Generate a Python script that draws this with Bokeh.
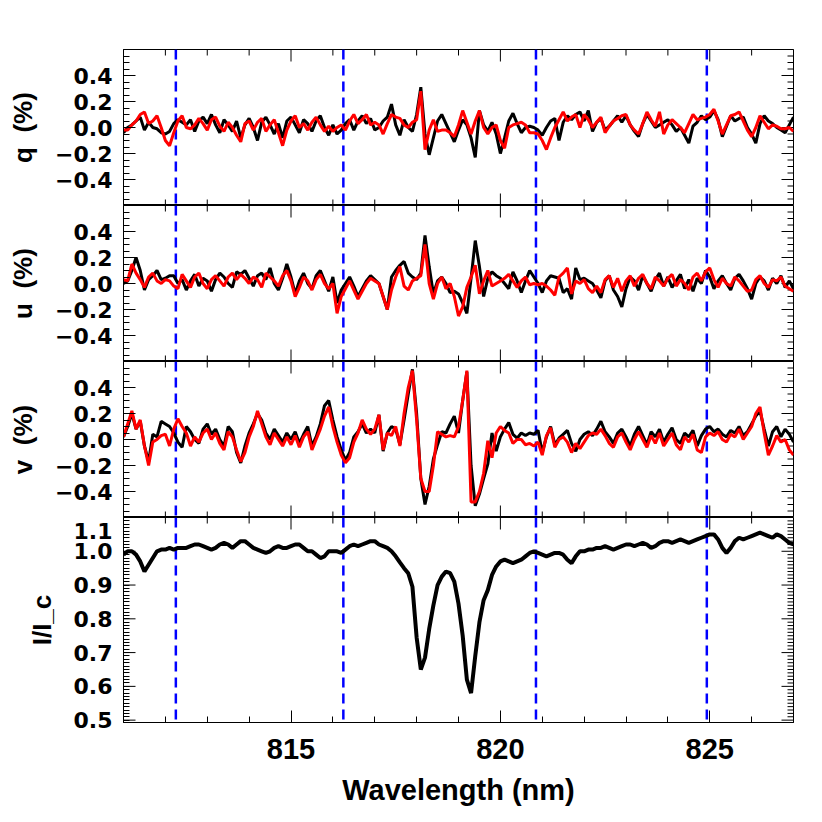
import numpy as np
from bokeh.plotting import figure
from bokeh.layouts import column
from bokeh.models import Range1d, FixedTicker, Span, CustomJSTickFormatter
from bokeh.embed import file_html
from bokeh.resources import INLINE

# ---------------- data (sampled every 0.1 nm from 811.0 nm) ----------------
WL_START = 811.0
WL_STEP = 0.1

Q_BLACK = [
    -0.04, 0.00, 0.02, 0.05, 0.08, -0.02, 0.04, 0.00, -0.01, -0.04,
    -0.05, -0.03, 0.03, 0.06, 0.04, 0.02, 0.06, -0.03, 0.05, 0.08,
    0.03, 0.10, 0.02, -0.04, 0.06, 0.02, -0.03, 0.05, -0.08, 0.02,
    0.07, 0.00, -0.10, 0.04, 0.08, 0.02, -0.05, 0.03, -0.08, 0.05,
    0.08, 0.02, -0.04, 0.06, 0.03, -0.03, 0.05, 0.09, 0.00, -0.06,
    0.02, -0.05, -0.02, 0.03, 0.06, -0.02, 0.05, 0.09, 0.03, 0.07,
    -0.02, 0.00, 0.05, 0.08, 0.18, 0.02, -0.06, 0.06, 0.00, -0.03,
    0.10, 0.31, -0.05, -0.21, -0.08, 0.05, 0.10, 0.03, -0.04, -0.11,
    -0.02, 0.06, 0.02, -0.08, -0.23, 0.13, 0.02, -0.03, 0.04, -0.05,
    -0.20, -0.08, 0.05, 0.11, 0.03, -0.04, 0.00, 0.01, 0.00, -0.02,
    -0.06, 0.00, 0.05, 0.07, -0.10, 0.04, 0.09, 0.06, 0.10, 0.12,
    0.05, 0.13, -0.03, 0.04, 0.07, -0.02, 0.01, 0.05, 0.09, 0.04,
    0.09, 0.02, -0.03, -0.07, 0.03, 0.10, 0.05, 0.00, 0.02, 0.04,
    0.06, 0.02, -0.03, 0.00, -0.06, -0.12, 0.01, 0.04, 0.09, 0.06,
    0.08, 0.13, 0.06, -0.07, 0.01, 0.09, 0.05, 0.07, 0.08, 0.00,
    -0.05, -0.12, 0.03, 0.09, 0.05, 0.03, 0.00, -0.02, -0.04, 0.02,
    0.08,
]
Q_RED = [
    -0.02, -0.02, 0.02, 0.05, 0.10, 0.12, 0.03, 0.05, 0.09, 0.00,
    -0.10, -0.14, -0.04, 0.05, 0.09, 0.00, -0.01, 0.02, 0.07, 0.03,
    -0.02, 0.06, 0.08, 0.01, -0.03, 0.04, 0.00, -0.06, -0.11, 0.03,
    0.05, -0.02, 0.04, 0.07, -0.03, 0.02, 0.06, -0.04, -0.14, -0.02,
    0.05, 0.09, 0.00, 0.03, -0.02, 0.04, 0.08, 0.02, -0.03, 0.01,
    -0.03, 0.00, 0.02, -0.02, 0.05, 0.10, 0.03, 0.06, 0.10, 0.02,
    0.04, 0.02, -0.05, 0.03, 0.10, 0.08, 0.07, 0.02, 0.00, 0.04,
    0.06, 0.28, -0.17, -0.02, 0.06, -0.03, -0.02, -0.02, -0.04, -0.07,
    0.02, 0.13, 0.04, -0.05, 0.05, 0.13, 0.00, -0.05, 0.00, 0.02,
    -0.10, -0.16, 0.00, 0.02, 0.03, 0.04, 0.02, -0.04, -0.04, -0.05,
    -0.10, -0.17, -0.08, 0.00, 0.06, 0.12, 0.05, 0.08, 0.10, 0.00,
    0.10, 0.06, 0.00, 0.04, 0.08, -0.04, 0.01, 0.05, 0.07, 0.09,
    0.10, 0.02, -0.02, -0.05, 0.03, 0.12, 0.06, 0.01, 0.12, -0.05,
    0.02, 0.06, 0.03, 0.00, -0.04, 0.03, 0.10, 0.06, 0.07, 0.08,
    0.10, 0.14, 0.05, -0.05, 0.02, 0.09, 0.10, 0.12, 0.05, -0.02,
    -0.07, 0.00, 0.09, 0.04, -0.01, 0.02, 0.01, -0.01, -0.01, 0.00,
    -0.03,
]
U_BLACK = [
    0.00, 0.02, 0.10, 0.20, 0.10, -0.05, 0.03, 0.06, 0.10, 0.03,
    0.04, 0.06, 0.06, 0.00, 0.03, -0.05, 0.02, 0.07, -0.02, 0.04,
    0.02, -0.06, 0.03, 0.08, 0.05, 0.00, -0.03, 0.09, 0.07, 0.10,
    0.04, -0.02, 0.06, 0.08, 0.03, 0.12, 0.00, -0.05, 0.04, 0.15,
    0.05, -0.08, 0.02, 0.08, 0.00, -0.04, 0.06, 0.10, 0.02, -0.06,
    0.05, -0.15, -0.05, 0.00, 0.05, -0.02, -0.10, -0.04, 0.02, 0.06,
    0.03, 0.00, -0.10, -0.20, 0.05, 0.10, 0.14, 0.17, 0.08, 0.05,
    0.03, 0.08, 0.37, 0.13, -0.08, 0.02, 0.05, 0.00, -0.07, -0.06,
    -0.08, -0.15, -0.23, 0.04, 0.33, 0.13, -0.10, 0.04, 0.09, 0.06,
    0.04, 0.00, -0.04, 0.09, 0.02, -0.07, 0.02, 0.10, 0.05, 0.00,
    -0.07, 0.02, 0.06, 0.05, 0.04, -0.07, -0.04, -0.12, 0.12, 0.03,
    0.04, 0.02, 0.00, -0.05, -0.11, 0.02, 0.06, -0.05, -0.10, -0.18,
    -0.04, 0.05, 0.02, -0.05, 0.06, 0.00, -0.06, 0.03, 0.08, -0.02,
    0.05, -0.03, 0.02, 0.07, -0.04, 0.03, -0.06, 0.04, 0.00, 0.10,
    0.05, -0.04, 0.02, 0.06, 0.00, -0.05, 0.04, 0.07, 0.02, -0.04,
    -0.12, 0.00, 0.05, 0.02, -0.05, 0.04, 0.00, 0.06, -0.03, 0.02,
    -0.04,
]
U_RED = [
    0.03, 0.02, 0.15, 0.08, 0.03, -0.03, 0.05, 0.08, 0.02, 0.00,
    0.03, 0.02, -0.02, -0.04, 0.07, 0.02, -0.03, 0.05, 0.08, 0.00,
    -0.04, 0.03, 0.06, 0.02, -0.02, 0.05, 0.08, 0.03, 0.07, 0.04,
    0.00, 0.05, 0.03, -0.03, 0.08, 0.05, 0.02, -0.02, 0.06, 0.10,
    0.02, -0.10, -0.03, 0.05, 0.02, -0.05, 0.03, 0.07, 0.00, -0.04,
    0.00, -0.23, -0.10, -0.04, 0.02, -0.05, -0.12, -0.06, 0.00, 0.04,
    0.02, 0.00, -0.10, -0.20, -0.05, 0.05, 0.13, -0.02, -0.05, 0.02,
    0.04, 0.06, 0.30, 0.00, -0.12, 0.00, 0.05, -0.04, 0.00, -0.10,
    -0.25, -0.18, -0.03, 0.05, 0.14, -0.08, 0.02, 0.10, -0.02, 0.00,
    0.02, 0.04, 0.07, 0.02, -0.03, 0.02, 0.05, -0.01, 0.00, -0.01,
    0.00, -0.02, -0.05, -0.09, 0.05, 0.08, 0.12, -0.08, 0.02, 0.00,
    0.03, -0.04, -0.07, -0.02, -0.07, 0.03, 0.06, -0.03, 0.04, -0.06,
    0.02, 0.06, -0.02, 0.04, 0.07, 0.00, -0.04, 0.05, 0.02, -0.02,
    0.04, 0.07, -0.02, 0.03, 0.00, -0.05, 0.05, 0.08, 0.02, 0.09,
    0.12, 0.03, -0.03, 0.04, 0.00, -0.02, 0.05, 0.02, -0.02, -0.06,
    -0.05, 0.03, 0.06, 0.00, -0.03, 0.03, 0.02, 0.05, -0.02, -0.04,
    -0.06,
]
V_BLACK = [
    0.02, 0.10, 0.20, 0.08, 0.14, -0.05, -0.17, 0.04, 0.02, 0.14,
    0.12, 0.10, 0.05, -0.02, -0.06, 0.10, 0.06, 0.00, -0.03, 0.08,
    0.12, 0.04, 0.08, 0.00, -0.05, 0.10, 0.06, -0.10, -0.18, -0.05,
    0.05, 0.12, 0.20, 0.15, 0.05, 0.00, 0.08, 0.03, -0.02, 0.05,
    0.00, 0.06, -0.03, 0.04, 0.10, -0.05, 0.02, 0.12, 0.26, 0.30,
    0.15, 0.02, -0.08, -0.16, -0.10, 0.02, 0.06, 0.12, 0.05, 0.08,
    0.05, 0.19, -0.09, 0.05, 0.10, 0.08, -0.04, 0.15, 0.35, 0.54,
    0.20, -0.30, -0.50, -0.36, -0.15, -0.04, 0.06, 0.05, 0.12, 0.18,
    0.05, 0.30, 0.52, -0.20, -0.51, -0.42, -0.30, -0.19, 0.05, -0.09,
    0.02, 0.08, 0.13, 0.04, 0.01, 0.05, 0.03, 0.05, 0.04, 0.07,
    -0.10, 0.02, 0.10, -0.04, 0.01, 0.04, 0.07, -0.03, -0.09, 0.00,
    0.04, 0.06, 0.03, 0.08, 0.14, 0.06, 0.02, -0.03, 0.05, 0.08,
    0.02, -0.05, 0.04, 0.10, 0.03, -0.04, 0.06, 0.02, 0.08, -0.02,
    0.04, 0.09, 0.00, -0.03, 0.05, 0.02, 0.07, -0.05, 0.03, 0.08,
    0.10, 0.06, 0.08, 0.04, 0.02, 0.07, 0.05, 0.10, 0.03, 0.06,
    0.12, 0.18, 0.22, 0.08, -0.05, 0.06, 0.10, 0.02, 0.08, 0.04,
    -0.02,
]
V_RED = [
    0.02, 0.12, 0.22, 0.08, 0.15, -0.05, -0.20, -0.02, 0.00, 0.03,
    0.04, -0.05, 0.08, 0.16, 0.10, 0.05, -0.05, 0.02, -0.02, 0.05,
    0.08, 0.00, 0.05, -0.03, -0.08, 0.06, 0.02, -0.08, -0.17, -0.10,
    0.02, 0.10, 0.22, 0.12, 0.02, -0.04, 0.05, 0.00, -0.05, 0.02,
    -0.04, 0.03, -0.06, 0.02, 0.06, -0.08, 0.00, 0.08, 0.18, 0.25,
    0.10, -0.02, -0.12, -0.18, -0.14, -0.02, 0.05, 0.15, 0.08, 0.04,
    0.08, 0.19, -0.08, 0.05, 0.03, 0.10, -0.05, 0.20, 0.40, 0.53,
    0.15, -0.30, -0.40, -0.40, -0.20, 0.06, 0.04, 0.02, 0.03, 0.02,
    0.10, 0.30, 0.53, -0.48, -0.48, -0.40, -0.26, -0.01, -0.14, 0.05,
    0.10, 0.07, 0.05, -0.03, 0.00, 0.00, -0.04, -0.03, -0.05, -0.02,
    -0.12, 0.03, 0.09, -0.06, 0.00, 0.02, -0.02, -0.10, -0.03, -0.07,
    -0.02, 0.03, 0.05, 0.04, 0.08, 0.03, -0.03, -0.06, 0.02, 0.05,
    -0.02, -0.08, 0.00, 0.06, 0.00, -0.06, 0.03, -0.03, 0.05, -0.05,
    0.00, 0.05, -0.04, -0.08, 0.02, -0.02, 0.04, -0.08, -0.10, 0.02,
    0.05, 0.03, 0.06, 0.00, -0.02, 0.04, 0.02, 0.08, 0.00, 0.05,
    0.10, 0.20, 0.25, 0.05, -0.12, -0.05, 0.03, -0.02, 0.00, -0.08,
    -0.12,
]
I_IC = [
    0.99, 1.00, 1.00, 0.99, 0.97, 0.94, 0.96, 0.98, 1.00, 1.005,
    1.005, 1.01, 1.005, 1.01, 1.01, 1.01, 1.015, 1.02, 1.02, 1.015,
    1.01, 1.005, 1.01, 1.02, 1.025, 1.02, 1.01, 1.02, 1.03, 1.03,
    1.02, 1.01, 1.005, 1.00, 0.995, 1.00, 1.01, 1.015, 1.01, 1.01,
    1.015, 1.02, 1.02, 1.01, 1.00, 1.00, 0.99, 0.98, 0.985, 1.00,
    1.00, 1.00, 0.995, 1.005, 1.015, 1.02, 1.015, 1.02, 1.025, 1.03,
    1.03, 1.02, 1.015, 1.01, 1.00, 0.985, 0.967, 0.95, 0.935, 0.895,
    0.745, 0.65, 0.685, 0.77, 0.84, 0.90, 0.925, 0.94, 0.935, 0.91,
    0.845, 0.75, 0.62, 0.58, 0.69, 0.79, 0.855, 0.885, 0.93, 0.955,
    0.97, 0.975, 0.97, 0.965, 0.97, 0.975, 0.985, 0.995, 1.00, 0.995,
    0.99, 0.985, 0.99, 0.995, 0.995, 0.99, 0.975, 0.965, 0.985, 1.00,
    1.00, 1.005, 1.005, 1.01, 1.01, 1.015, 1.01, 1.005, 1.01, 1.015,
    1.02, 1.02, 1.015, 1.02, 1.025, 1.02, 1.01, 1.015, 1.025, 1.03,
    1.03, 1.025, 1.03, 1.035, 1.03, 1.025, 1.03, 1.035, 1.04, 1.045,
    1.05, 1.05, 1.035, 1.01, 0.995, 1.01, 1.03, 1.04, 1.035, 1.04,
    1.045, 1.05, 1.055, 1.05, 1.045, 1.04, 1.05, 1.045, 1.035, 1.025,
    1.02,
]
DASH_WL = [812.25, 816.25, 820.85, 824.93]

X_MAJOR = [815, 820, 825]
X_MINOR = list(range(811, 828))
POL_MAJOR = [-0.4, -0.2, 0.0, 0.2, 0.4]
I_MAJOR = [0.5, 0.6, 0.7, 0.8, 0.9, 1.0, 1.1]
# where the I/I_c tick labels sit (the top one is tucked just inside the panel,
# as in the original figure)
I_LABEL_AT = [0.5, 0.6, 0.7, 0.8, 0.9, 1.0, 1.06]

wl = np.round(WL_START + WL_STEP * np.arange(len(I_IC)), 2)

FONT = "Liberation Sans"
YFONT = "DejaVu Sans"
X0, X1 = 811.0, 827.0
x_range = Range1d(X0, X1)

pol_fmt = CustomJSTickFormatter(code="return tick.toFixed(1).replace('-', '\\u2212');")
i_fmt = CustomJSTickFormatter(code="return (tick > 1.05) ? '1.1' : tick.toFixed(1);")

pol_minor = [round(v, 2) for v in np.arange(-0.6, 0.601, 0.05)]
i_minor = [round(v, 2) for v in np.arange(0.5, 1.101, 0.01)]
x_minor_only = [v for v in X_MINOR if v not in X_MAJOR]


def style_axis(ax, ticker, font, size):
    ax.ticker = ticker
    ax.axis_line_color = "black"
    ax.axis_line_width = 1
    ax.major_tick_in = 12
    ax.major_tick_out = 0
    ax.minor_tick_in = 6
    ax.minor_tick_out = 0
    ax.major_tick_line_color = "black"
    ax.minor_tick_line_color = "black"
    ax.major_label_text_font = font
    ax.major_label_text_font_style = "bold"
    ax.major_label_text_font_size = size
    ax.major_label_text_color = "black"


def edge_ticks(p, y0, y1, ymajor, yminor, bottom, left_major):
    # mirrored inward ticks (IDL style) on the unlabeled frame edges
    edges = [y1] + ([y0] if bottom else [])
    for ye in edges:
        p.scatter(X_MAJOR, [ye] * len(X_MAJOR), marker="dash", size=24,
                  angle=np.pi / 2, line_color="black", line_width=1)
        p.scatter(x_minor_only, [ye] * len(x_minor_only), marker="dash", size=12,
                  angle=np.pi / 2, line_color="black", line_width=1)
    ymin_only = [v for v in yminor if all(abs(v - m) > 1e-9 for m in ymajor)]
    xs = [X1] + ([X0] if left_major else [])
    for xe in xs:
        p.scatter([xe] * len(ymajor), ymajor, marker="dash", size=24,
                  line_color="black", line_width=1)
    p.scatter([X1] * len(ymin_only), ymin_only, marker="dash", size=12,
              line_color="black", line_width=1)


def panel(ylab, yr, ymajor, label_at, fmt, yminor, frame_h, top, bottom, xlabels):
    p = figure(frame_width=670, frame_height=frame_h, x_range=x_range,
               y_range=Range1d(*yr), output_backend="svg", toolbar_location=None,
               x_axis_location="below" if xlabels else None,
               min_border_left=123, min_border_right=20,
               min_border_top=top, min_border_bottom=bottom)
    p.grid.visible = False
    p.outline_line_color = "black"
    p.outline_line_width = 1
    p.background_fill_color = "white"
    p.border_fill_color = "white"
    ya = p.yaxis[0]
    style_axis(ya, FixedTicker(ticks=label_at, minor_ticks=yminor), YFONT, "22px")
    moved = any(abs(a - b) > 1e-9 for a, b in zip(label_at, ymajor))
    if moved:
        ya.major_tick_in = 0  # real major ticks drawn by edge_ticks
    ya.formatter = fmt
    ya.major_label_standoff = 11
    ya.axis_label = ylab
    ya.axis_label_text_font = FONT
    ya.axis_label_text_font_style = "bold"
    ya.axis_label_text_font_size = "26px"
    ya.axis_label_text_color = "black"
    ya.axis_label_standoff = 14
    if xlabels:
        xa = p.below[0]
        style_axis(xa, FixedTicker(ticks=X_MAJOR, minor_ticks=X_MINOR), FONT, "29px")
        xa.major_label_standoff = 16
        xa.axis_label = "Wavelength (nm)"
        xa.axis_label_text_font = FONT
        xa.axis_label_text_font_style = "bold"
        xa.axis_label_text_font_size = "29px"
        xa.axis_label_text_color = "black"
        xa.axis_label_standoff = 12
    for loc in DASH_WL:
        p.add_layout(Span(location=loc, dimension="height", line_color="#0000ff",
                          line_width=2.5, line_dash="10 6", level="underlay"))
    edge_ticks(p, yr[0], yr[1], ymajor, yminor, not xlabels, moved)
    return p


NB = "\u00a0\u00a0"

pq = panel("q" + NB + "(%)", (-0.6, 0.6), POL_MAJOR, POL_MAJOR, pol_fmt,
           pol_minor, 156, 49, 0, False)
pq.line(wl, Q_BLACK, line_color="black", line_width=3)
pq.line(wl, Q_RED, line_color="#ff0000", line_width=3)

pu = panel("u" + NB + "(%)", (-0.6, 0.6), POL_MAJOR, POL_MAJOR, pol_fmt,
           pol_minor, 156, 0, 0, False)
pu.line(wl, U_BLACK, line_color="black", line_width=3)
pu.line(wl, U_RED, line_color="#ff0000", line_width=3)

pv = panel("v" + NB + "(%)", (-0.6, 0.6), POL_MAJOR, POL_MAJOR, pol_fmt,
           pol_minor, 156, 0, 0, False)
pv.line(wl, V_BLACK, line_color="black", line_width=3)
pv.line(wl, V_RED, line_color="#ff0000", line_width=3)

pi = panel("I/I_c", (0.493, 1.1), I_MAJOR, I_LABEL_AT, i_fmt,
           i_minor, 205, 0, 95, True)
pi.line(wl, I_IC, line_color="black", line_width=4)

layout = column(pq, pu, pv, pi, spacing=0)
open("out.html", "w").write(file_html(layout, INLINE))
